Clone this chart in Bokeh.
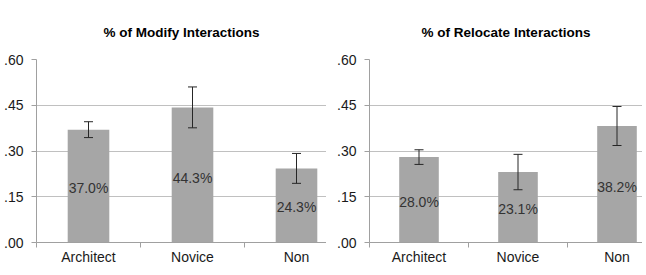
from bokeh.plotting import figure
from bokeh.layouts import row
from bokeh.models import ColumnDataSource, Range1d, FixedTicker, Whisker, TeeHead
from bokeh.core.properties import value
from bokeh.embed import file_html
from bokeh.resources import INLINE

categories = ["Architect", "Novice", "Non"]
modify_values = [0.370, 0.443, 0.243]
modify_errors = [0.026, 0.067, 0.049]
relocate_values = [0.280, 0.231, 0.382]
relocate_errors = [0.024, 0.058, 0.064]
y_ticks = [0.0, 0.15, 0.30, 0.45, 0.60]
y_tick_labels = [".00", ".15", ".30", ".45", ".60"]
titles = ["% of Modify Interactions", "% of Relocate Interactions"]

FONT = "Liberation Sans"
BAR = "#a6a6a6"
AXIS = "#a0a0a0"
GRID = "#c0c0c0"


def make_chart(title, vals, errs, width, left_border, x_end):
    centers = [i + 0.5 for i in range(len(categories))]
    bounds = [float(i) for i in range(len(categories))]
    src = ColumnDataSource(dict(
        x=centers,
        top=vals,
        upper=[v + e for v, e in zip(vals, errs)],
        lower=[v - e for v, e in zip(vals, errs)],
        label_y=[v * 0.48 for v in vals],
        label=[f"{v * 100:.1f}%" for v in vals],
    ))
    p = figure(width=width, height=268, output_backend="svg", toolbar_location=None,
               x_range=Range1d(0, x_end), y_range=Range1d(0, 0.6),
               min_border_left=left_border, min_border_right=0,
               min_border_top=59, min_border_bottom=26)
    p.outline_line_color = None
    p.background_fill_color = "white"
    p.border_fill_color = "white"

    p.title.text = title
    p.title.align = "center"
    p.title.vertical_align = "top"
    p.title.text_font = FONT
    p.title.text_font_size = "13.5px"
    p.title.text_font_style = "bold"
    p.title.text_color = "#000000"
    p.title.standoff = 36

    p.vbar(x="x", top="top", width=0.4, source=src, fill_color=BAR, line_color=None)
    p.add_layout(Whisker(base="x", upper="upper", lower="lower", source=src,
                         level="overlay",
                         line_color="#262626", line_width=1,
                         upper_head=TeeHead(size=9, line_color="#262626", line_width=1),
                         lower_head=TeeHead(size=9, line_color="#262626", line_width=1)))
    p.text(x="x", y="label_y", text="label", source=src,
           text_font=value(FONT), text_font_size="14px", text_color="#333333",
           text_align="center", text_baseline="middle")

    xa = p.xaxis[0]
    xa.ticker = FixedTicker(ticks=centers, minor_ticks=bounds)
    xa.major_label_overrides = {c: n for c, n in zip(centers, categories)}
    xa.major_tick_line_color = None
    xa.minor_tick_line_color = AXIS
    xa.minor_tick_out = 5
    xa.minor_tick_in = 0
    xa.axis_line_color = AXIS
    xa.major_label_standoff = 0
    xa.major_label_text_font = FONT
    xa.major_label_text_font_size = "14px"
    xa.major_label_text_color = "#1a1a1a"

    ya = p.yaxis[0]
    ya.ticker = FixedTicker(ticks=y_ticks, minor_ticks=[])
    ya.major_label_overrides = {t: l for t, l in zip(y_ticks, y_tick_labels)}
    ya.major_tick_out = 5
    ya.major_tick_in = 0
    ya.major_tick_line_color = AXIS
    ya.axis_line_color = AXIS
    ya.major_label_standoff = 8
    ya.major_label_text_font = FONT
    ya.major_label_text_font_size = "14px"
    ya.major_label_text_color = "#1a1a1a"

    p.xgrid.visible = False
    p.ygrid.ticker = FixedTicker(ticks=y_ticks)
    p.ygrid.grid_line_color = GRID
    p.ygrid.grid_line_width = 1
    return p


left = make_chart(titles[0], modify_values, modify_errors, 326, 36, 290 / 104)
right = make_chart(titles[1], relocate_values, relocate_errors, 316, 43, 273 / 99)
layout = row(left, right, spacing=0)

open("out.html", "w").write(file_html(layout, INLINE))
